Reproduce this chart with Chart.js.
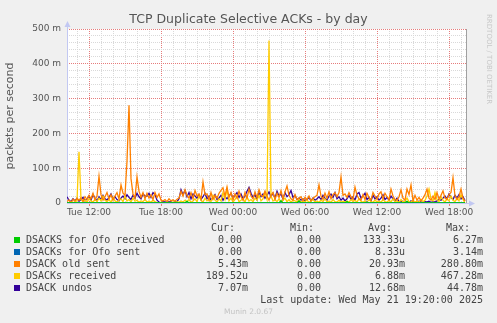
<!DOCTYPE html>
<html lang="en">
<head>
<meta charset="UTF-8">
<title>TCP Duplicate Selective ACKs - by day</title>
<script src="https://cdn.jsdelivr.net/npm/chart.js"></script>
<style>
  html, body { margin: 0; padding: 0; background: #f0f0f0; }
  #wrap { position: relative; width: 497px; height: 323px; overflow: hidden; font-family: "DejaVu Sans", sans-serif; }
  #graph { position: absolute; left: 0; top: 0; }
  .title { position: absolute; left: 0; width: 497px; top: 12px; line-height: 14px; text-align: center; font-size: 12.5px; color: #555; }
  .rrd { position: absolute; left: 485px; top: 14px; writing-mode: vertical-rl; font-size: 7px; color: #c8c8c8; white-space: nowrap; }
  .legend { position: absolute; left: 0; top: 0; width: 497px; height: 323px; font-family: "DejaVu Sans Mono", monospace; font-size: 10px; line-height: 12px; color: #444; white-space: pre; }
  .legend span { position: absolute; }
  .legend .swatch { width: 6px; height: 6px; left: 14px; }
  .munin { position: absolute; left: 0; width: 497px; top: 307px; line-height: 10px; text-align: center; font-size: 7.5px; color: #c4c4c4; }
</style>
</head>
<body>
<div id="wrap">
  <canvas id="graph" width="497" height="323"></canvas>
  <div class="title">TCP Duplicate Selective ACKs - by day</div>
  <div class="rrd">RRDTOOL / TOBI OETIKER</div>
  <div class="legend" id="legend"></div>
  <div class="munin">Munin 2.0.67</div>
</div>

<script>
// samples every 10 minutes, starting Tue 10:10 (hours counted from Tue 00:00)
const startHour = 10 + 10 / 60;
const stepHours = 10 / 60;
const endHour = 43.5;

const seriesNames = ['DSACKS for Ofo received', 'DSACKs for Ofo sent', 'DSACK old sent', 'DSACKs received', 'DSACK undos'];
const seriesColors = ['#00cc00', '#0066b3', '#ff8000', '#ffcc00', '#330099'];

// values in milli-packets per second
const ofoReceived = [
  0, 0, 0, 0, 0, 0, 0, 0, 0, 0, 0, 0, 0, 0, 0, 0, 0, 0, 0, 0,
  0, 0, 0, 0, 0, 0, 0, 0, 0, 0, 0, 0, 0, 0, 0, 0, 0, 0, 0, 0,
  0, 0, 0, 0, 0, 0, 0, 0, 0, 0, 0, 0, 0, 0, 0, 0, 0, 0, 0, 0,
  5, 0, 0, 0, 0, 0, 0, 0, 0, 0, 0, 0, 0, 0, 0, 0, 0, 0, 0, 0,
  0, 0, 0, 0, 0, 0, 0, 0, 0, 0, 0, 0, 0, 0, 0, 0, 0, 0, 0, 0,
  0, 0, 0, 0, 0, 0, 0, 6.27, 0, 0, 0, 0, 0, 0, 0, 0, 6, 0, 0, 0,
  0, 0, 0, 0, 0, 0, 0, 0, 0, 0, 0, 0, 0, 0, 0, 0, 0, 0, 0, 0,
  4, 0, 0, 0, 0, 0, 0, 0, 0, 0, 0, 0, 0, 0, 0, 0, 0, 0, 0, 0,
  0, 0, 0, 0, 0, 0, 0, 0, 0, 0, 5, 0, 0, 0, 0, 0, 0, 0, 0, 0,
  0, 0, 0, 0, 0, 0, 0, 0, 0, 0, 0, 0, 0, 0, 0, 0, 0, 0, 0, 0
];
const ofoSent = [
  0, 0, 0, 0, 0, 0, 0, 0, 0, 0, 0, 0, 0, 0, 0, 0, 0, 0, 0, 0,
  0, 0, 0, 0, 0, 0, 0, 0, 0, 0, 0, 0, 0, 0, 0, 0, 0, 0, 0, 0,
  0, 0, 0, 0, 0, 0, 0, 0, 0, 0, 0, 0, 0, 0, 0, 0, 0, 0, 0, 0,
  0, 0, 0, 0, 0, 0, 0, 0, 0, 0, 0, 0, 0, 0, 0, 0, 0, 0, 0, 0,
  0, 0, 0, 0, 0, 0, 0, 0, 0, 0, 0, 0, 0, 0, 0, 0, 0, 0, 0, 0,
  0, 0, 0, 0, 0, 0, 0, 0, 0, 0, 0, 0, 0, 0, 0, 0, 0, 0, 0, 0,
  0, 0, 0, 0, 0, 0, 0, 0, 0, 0, 0, 0, 0, 0, 0, 0, 0, 0, 0, 0,
  0, 0, 0, 0, 0, 0, 0, 0, 0, 0, 3.14, 0, 0, 0, 0, 0, 0, 0, 0, 0,
  0, 0, 0, 0, 0, 0, 0, 0, 0, 0, 0, 0, 0, 0, 0, 0, 0, 0, 0, 0,
  0, 0, 0, 0, 0, 0, 0, 0, 0, 0, 0, 0, 0, 0, 0, 0, 0, 0, 0, 0
];
const oldSent = [
  4, 9, 0, 11, 6, 13, 8, 15, 5, 18, 10, 22, 12, 28, 9, 20, 77, 24, 8, 18,
  30, 12, 24, 8, 20, 30, 12, 52, 28, 22, 120, 280.8, 70, 26, 14, 75, 34, 16, 30, 12,
  28, 14, 24, 10, 30, 16, 26, 8, 6, 10, 4, 12, 6, 9, 5, 11, 14, 34, 20, 38,
  22, 14, 30, 12, 36, 20, 26, 10, 61, 24, 26, 8, 30, 10, 22, 14, 28, 36, 44, 20,
  46, 16, 30, 10, 26, 14, 34, 18, 8, 30, 14, 40, 20, 12, 32, 16, 38, 22, 18, 34,
  20, 8, 22, 30, 10, 28, 16, 36, 12, 32, 49, 22, 12, 8, 24, 10, 14, 18, 6, 16,
  10, 20, 6, 14, 18, 22, 52, 20, 10, 28, 14, 32, 12, 24, 30, 18, 30, 75, 22, 26,
  16, 30, 18, 10, 46, 22, 12, 8, 24, 10, 28, 16, 8, 30, 20, 10, 26, 32, 12, 28,
  18, 10, 40, 20, 10, 8, 18, 38, 14, 8, 40, 24, 52, 6, 22, 8, 16, 6, 14, 24,
  40, 14, 8, 20, 10, 30, 12, 22, 35, 14, 10, 24, 30, 73, 20, 10, 18, 40, 14, 5.43
];
const received = [
  2, 0, 4, 1, 3, 6, 147, 10, 4, 8, 2, 12, 6, 3, 10, 4, 14, 6, 20, 8,
  4, 10, 2, 16, 6, 3, 8, 12, 4, 20, 6, 10, 3, 14, 5, 8, 2, 6, 4, 10,
  3, 6, 2, 8, 4, 1, 0, 2, 0, 1, 0, 2, 0, 3, 1, 4, 2, 6, 3, 8,
  4, 10, 2, 6, 12, 4, 20, 8, 3, 14, 6, 10, 4, 22, 8, 3, 12, 6, 30, 10,
  40, 6, 14, 3, 10, 20, 4, 8, 12, 3, 18, 6, 10, 4, 14, 8, 22, 6, 12, 30,
  10, 467.28, 20, 6, 10, 4, 12, 3, 8, 14, 4, 10, 2, 8, 6, 3, 10, 2, 6, 4,
  8, 2, 5, 10, 3, 6, 2, 8, 4, 12, 3, 6, 2, 10, 4, 3, 8, 2, 5, 3,
  6, 2, 10, 4, 8, 3, 12, 5, 2, 6, 3, 9, 4, 2, 8, 3, 6, 2, 10, 4,
  2, 8, 3, 12, 4, 6, 2, 10, 3, 5, 14, 4, 2, 8, 3, 6, 2, 10, 4, 8,
  20, 40, 12, 6, 30, 10, 4, 18, 8, 3, 12, 6, 20, 8, 4, 14, 6, 24, 10, 0.19
];
const undos = [
  18, 8, 4, 12, 6, 14, 5, 10, 16, 6, 12, 20, 8, 24, 14, 6, 18, 10, 22, 12,
  8, 16, 26, 12, 18, 10, 6, 14, 20, 12, 24, 16, 10, 22, 14, 28, 18, 12, 26, 20,
  20, 28, 16, 30, 24, 8, 3, 0, 4, 3, 2, 4, 3, 0, 3, 4, 12, 38, 24, 36,
  18, 30, 12, 26, 20, 14, 24, 10, 18, 28, 12, 20, 8, 16, 24, 10, 14, 22, 8, 18,
  12, 20, 28, 14, 22, 30, 16, 26, 12, 20, 34, 44.78, 28, 16, 24, 10, 30, 18, 26, 14,
  22, 32, 18, 28, 14, 34, 20, 26, 12, 30, 18, 24, 36, 16, 22, 10, 14, 8, 12, 6,
  10, 16, 6, 14, 8, 12, 18, 10, 22, 14, 8, 20, 26, 16, 30, 12, 18, 8, 14, 6,
  12, 22, 10, 18, 8, 26, 30, 14, 20, 28, 10, 16, 6, 22, 12, 18, 8, 14, 24, 10,
  16, 8, 20, 12, 6, 14, 4, 3, 5, 2, 4, 0, 6, 2, 4, 3, 5, 3, 2, 4,
  3, 5, 2, 4, 3, 6, 10, 8, 14, 20, 12, 26, 16, 10, 22, 14, 24, 12, 18, 7.07
];
const seriesValues = [ofoReceived, ofoSent, oldSent, received, undos];

// legend statistics as printed under the graph
const curText = ['0.00 ', '0.00 ', '5.43m', '189.52u', '7.07m'];
const minText = ['0.00 ', '0.00 ', '0.00 ', '0.00 ', '0.00 '];
const avgText = ['133.33u', '8.33u', '20.93m', '6.88m', '12.68m'];
const maxText = ['6.27m', '3.14m', '280.80m', '467.28m', '44.78m'];
const lastUpdate = 'Last update: Wed May 21 19:20:00 2025';

const xTickHours = [12, 18, 24, 30, 36, 42];
const xTickLabels = ['Tue 12:00', 'Tue 18:00', 'Wed 00:00', 'Wed 06:00', 'Wed 12:00', 'Wed 18:00'];
const yTickValues = [0, 100, 200, 300, 400, 500];
const yTickLabels = ['0', '100 m', '200 m', '300 m', '400 m', '500 m'];

const times = oldSent.map((_, i) => startHour + i * stepHours);

const majorGrid = '#e67c7c';
const minorGrid = '#d9d9d9';
const axisColor = '#c2c8f2';

// white plot background, axis lines with arrows, right frame line
const plotFrame = {
  id: 'plotFrame',
  beforeDraw(chart) {
    const { ctx, chartArea: a } = chart;
    ctx.save();
    ctx.fillStyle = '#ffffff';
    ctx.fillRect(a.left, a.top, a.right - a.left, a.bottom - a.top);
    ctx.restore();
  },
  beforeDatasetsDraw(chart) {
    const { ctx, chartArea: a } = chart;
    ctx.save();
    ctx.strokeStyle = '#a0a0a0';
    ctx.lineWidth = 1;
    ctx.beginPath();
    ctx.moveTo(a.right - 0.5, a.top);
    ctx.lineTo(a.right - 0.5, a.bottom);
    ctx.stroke();

    ctx.strokeStyle = axisColor;
    ctx.fillStyle = axisColor;
    ctx.beginPath();
    ctx.moveTo(a.left + 0.5, a.bottom);
    ctx.lineTo(a.left + 0.5, a.top - 4);
    ctx.moveTo(a.left, a.bottom + 0.5);
    ctx.lineTo(a.right + 4, a.bottom + 0.5);
    ctx.stroke();
    // arrow heads
    ctx.beginPath();
    ctx.moveTo(a.left + 0.5, a.top - 8);
    ctx.lineTo(a.left - 2.5, a.top - 2);
    ctx.lineTo(a.left + 3.5, a.top - 2);
    ctx.closePath();
    ctx.fill();
    ctx.beginPath();
    ctx.moveTo(a.right + 8, a.bottom + 0.5);
    ctx.lineTo(a.right + 2, a.bottom - 2.5);
    ctx.lineTo(a.right + 2, a.bottom + 3.5);
    ctx.closePath();
    ctx.fill();
    ctx.restore();
  }
};

Chart.defaults.font.family = '"DejaVu Sans", sans-serif';

new Chart(document.getElementById('graph').getContext('2d'), {
  type: 'line',
  data: {
    datasets: seriesNames.map((name, k) => ({
      label: name,
      data: seriesValues[k].map((v, i) => ({ x: times[i], y: v })),
      borderColor: seriesColors[k],
      backgroundColor: seriesColors[k],
      borderWidth: 1.3,
      pointRadius: 0,
      tension: 0,
      fill: false
    }))
  },
  options: {
    responsive: false,
    animation: false,
    devicePixelRatio: 1,
    layout: { padding: { left: 0, right: 30, top: 29, bottom: 100 } },
    plugins: {
      legend: { display: false },
      tooltip: { enabled: false },
      title: { display: false }
    },
    scales: {
      x: {
        type: 'linear',
        min: startHour,
        max: endHour,
        afterFit(scale) { scale.height = 20; },
        afterBuildTicks(scale) {
          const ticks = [];
          for (let h = 11; h <= 43; h++) ticks.push({ value: h });
          scale.ticks = ticks;
        },
        grid: {
          color: c => (xTickHours.includes(c.tick.value) ? majorGrid : minorGrid),
          lineWidth: 1,
          drawTicks: true,
          tickLength: 3,
          tickColor: c => (xTickHours.includes(c.tick.value) ? majorGrid : 'rgba(0,0,0,0)')
        },
        border: { display: false, dash: [1, 1] },
        ticks: {
          autoSkip: false,
          maxRotation: 0,
          padding: 1,
          color: '#555',
          font: { size: 9 },
          callback: v => {
            const k = xTickHours.indexOf(v);
            return k >= 0 ? xTickLabels[k] : '';
          }
        }
      },
      y: {
        min: 0,
        max: 500,
        afterFit(scale) { scale.width = 67; },
        afterBuildTicks(scale) {
          const ticks = [];
          for (let v = 0; v <= 500; v += 20) ticks.push({ value: v });
          scale.ticks = ticks;
        },
        grid: {
          color: c => (c.tick.value % 100 === 0 ? majorGrid : minorGrid),
          lineWidth: 1,
          drawTicks: false
        },
        border: { display: false, dash: [1, 1] },
        title: {
          display: true,
          text: 'packets per second',
          color: '#555',
          font: { size: 11 },
          padding: { top: 4, bottom: 0 }
        },
        ticks: {
          autoSkip: false,
          padding: 6,
          color: '#555',
          font: { size: 9 },
          callback: v => {
            const k = yTickValues.indexOf(v);
            return k >= 0 ? yTickLabels[k] : '';
          }
        }
      }
    }
  },
  plugins: [plotFrame]
});

// legend table under the graph
const legend = document.getElementById('legend');
function addText(text, rightEdge, top, left) {
  const s = document.createElement('span');
  s.textContent = text;
  s.style.top = top + 'px';
  if (left !== undefined) s.style.left = left + 'px';
  else s.style.right = (497 - rightEdge) + 'px';
  legend.appendChild(s);
}
const headerTop = 222;
addText('Cur:', 235, headerTop);
addText('Min:', 314, headerTop);
addText('Avg:', 392, headerTop);
addText('Max:', 470, headerTop);
seriesNames.forEach((name, k) => {
  const top = 234 + k * 12;
  const sw = document.createElement('span');
  sw.className = 'swatch';
  sw.style.top = (top + 3) + 'px';
  sw.style.background = seriesColors[k];
  legend.appendChild(sw);
  addText(name, 0, top, 26);
  addText(curText[k], 248, top);
  addText(minText[k], 327, top);
  addText(avgText[k], 405, top);
  addText(maxText[k], 483, top);
});
addText(lastUpdate, 483, 294);
</script>
</body>
</html>
